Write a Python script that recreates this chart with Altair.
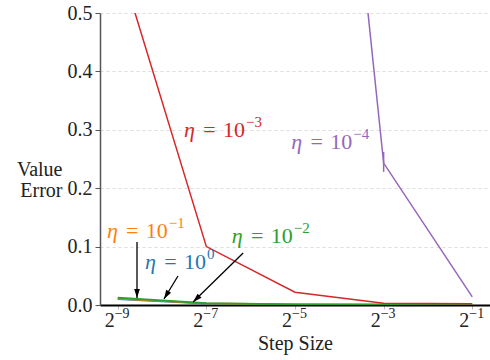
import altair as alt
import pandas as pd

# ---- data ----
exponents = [-9, -7, -5, -3, -1]               # step size = 2**exponent
err_eta_1e0 = [0.0100, 0.0025, 0.0008, 0.0004, 0.0003]
err_eta_1e_1 = [0.0110, 0.0027, 0.0009, 0.0004, 0.0003]
err_eta_1e_2 = [0.0125, 0.0030, 0.0010, 0.0005, 0.0003]
err_eta_1e_3 = [0.597, 0.100, 0.022, 0.003, 0.002]
err_eta_1e_4 = [None, None, 1.70, 0.243, 0.014]
series_names = ["eta1e0", "eta1e-1", "eta1e-2", "eta1e-3", "eta1e-4"]
series_colors = ["#1f77b4", "#ff7f0e", "#2ca02c", "#d62728", "#9467bd"]
series_widths = [1.8, 1.8, 2.0, 1.5, 1.5]

# spread of the eta=1e-4 run at step 2^-3
spread_exp = [-3]
spread_lo = [0.228]
spread_hi = [0.262]

# annotations: anchor = end of "10" on the baseline
ann_exp_text = ["\u22121", "0", "\u22122", "\u22123", "\u22124"]
ann_x_exp = [-7.87, -7.01, -5.05, -6.13, -3.71]
ann_y = [0.1147, 0.0616, 0.106, 0.2877, 0.267]
ann_colors = ["#ff7f0e", "#1f77b4", "#2ca02c", "#d62728", "#9467bd"]

# arrows (orange, blue, green labels)
arrow_x0 = [-8.565, -7.64, -6.17]
arrow_y0 = [0.108, 0.0497, 0.089]
arrow_x1 = [-8.565, -7.956, -7.30]
arrow_y1 = [0.012, 0.0103, 0.0051]
arrow_angle = [0, 31, 46]

# x tick labels 2^-9 ... 2^-1
tick_exps = [-9, -7, -5, -3, -1]
tick_exp_text = ["\u22129", "\u22127", "\u22125", "\u22123", "\u22121"]

FONT = "Liberation Serif"
TXT = "#222222"

all_series = [err_eta_1e0, err_eta_1e_1, err_eta_1e_2, err_eta_1e_3, err_eta_1e_4]

xscale = alt.Scale(type="log", base=2, domain=[2 ** -9.4, 2 ** -0.6], nice=False)
yscale = alt.Scale(domain=[0, 0.5], nice=False)

x_axis = alt.Axis(
    values=[2.0 ** e for e in tick_exps],
    labels=False,
    title="Step Size",
    grid=False,
    domainColor="black",
    domainWidth=1.8,
    tickColor="#bbbbbb",
    tickSize=4,
    titlePadding=24,
)
y_axis = alt.Axis(
    values=[0, 0.1, 0.2, 0.3, 0.4, 0.5],
    format=".1f",
    title=["Value", "Error"],
    titleAngle=0,
    titleAlign="right",
    titleBaseline="alphabetic",
    titleX=-38,
    titleY=162,
    titleLineHeight=21,
    grid=True,
    gridColor="#d4d4d4",
    gridDash=[3, 3],
    gridWidth=0.8,
    domainColor="#555555",
    domainWidth=1.5,
    tickColor="#555555",
    tickSize=5,
    labelPadding=3,
)


def X(field):
    return alt.X(field, scale=xscale, axis=x_axis)


def Y(field):
    return alt.Y(field, scale=yscale, axis=y_axis)


layers = []
for i, (name, vals) in enumerate(zip(series_names, all_series)):
    df = pd.DataFrame({
        "step": [2.0 ** e for e in exponents],
        "err": vals,
    }).dropna()
    layers.append(
        alt.Chart(df).mark_line(color=series_colors[i], strokeWidth=series_widths[i], clip=True)
        .encode(x=X("step:Q"), y=Y("err:Q"))
    )

spread_df = pd.DataFrame({"step": [2.0 ** e for e in spread_exp], "lo": spread_lo, "hi": spread_hi})
layers.append(
    alt.Chart(spread_df).mark_rule(color="#9467bd", strokeWidth=1.5)
    .encode(x=X("step:Q"), y=Y("lo:Q"), y2="hi:Q")
)

# x tick labels as "2" + superscript exponent
tick_df = pd.DataFrame({
    "x": [2.0 ** e for e in tick_exps],
    "y": [0.0] * len(tick_exps),
    "exp": tick_exp_text,
})
base_tick = alt.Chart(tick_df).encode(x=X("x:Q"), y=Y("y:Q"))
layers.append(base_tick.mark_text(font=FONT, fontSize=20, align="right", baseline="alphabetic",
                                  dx=-3, dy=22, color=TXT)
              .encode(text=alt.value("2")))
layers.append(base_tick.mark_text(font=FONT, fontSize=14, align="left", baseline="alphabetic",
                                  dx=-3, dy=13, color=TXT)
              .encode(text="exp:N"))

ann_df = pd.DataFrame({
    "x": [2.0 ** e for e in ann_x_exp],
    "y": ann_y,
    "exp": ann_exp_text,
    "col": ann_colors,
})
base_ann = alt.Chart(ann_df).encode(
    x=X("x:Q"),
    y=Y("y:Q"),
    color=alt.Color("col:N", scale=None),
)
layers.append(base_ann.mark_text(font=FONT, fontSize=22, align="right", baseline="alphabetic")
              .encode(text=alt.value("\u2004=\u200410")))
layers.append(base_ann.mark_text(font=FONT, fontSize=22, fontStyle="italic", align="right",
                                 baseline="alphabetic", dx=-50)
              .encode(text=alt.value("\u03b7")))
layers.append(base_ann.mark_text(font=FONT, fontSize=15, align="left", baseline="alphabetic", dx=1, dy=-10)
              .encode(text="exp:N"))

arr_df = pd.DataFrame({
    "x0": [2.0 ** e for e in arrow_x0], "y0": arrow_y0,
    "x1": [2.0 ** e for e in arrow_x1], "y1": arrow_y1,
    "ang": arrow_angle,
})
layers.append(
    alt.Chart(arr_df).mark_rule(color="black", strokeWidth=1.3)
    .encode(x=X("x0:Q"), y=Y("y0:Q"), x2="x1:Q", y2="y1:Q")
)
layers.append(
    alt.Chart(arr_df).mark_point(shape="M0,0L-0.6,-1.9L0.6,-1.9Z", filled=True, color="black",
                                 size=90, opacity=1)
    .encode(x=X("x1:Q"), y=Y("y1:Q"), angle=alt.Angle("ang:Q", scale=None))
)

chart = alt.layer(*layers).properties(
    width=390, height=292,
    padding={"left": 100, "top": 13, "right": 0, "bottom": 55},
    autosize="none",
).configure_view(stroke=None).configure_axis(
    labelFont=FONT, titleFont=FONT, labelFontSize=20, titleFontSize=20,
    labelColor=TXT, titleColor=TXT, titleFontWeight="normal",
)

chart.save("out.html", embed_options={"renderer": "svg", "actions": False})
